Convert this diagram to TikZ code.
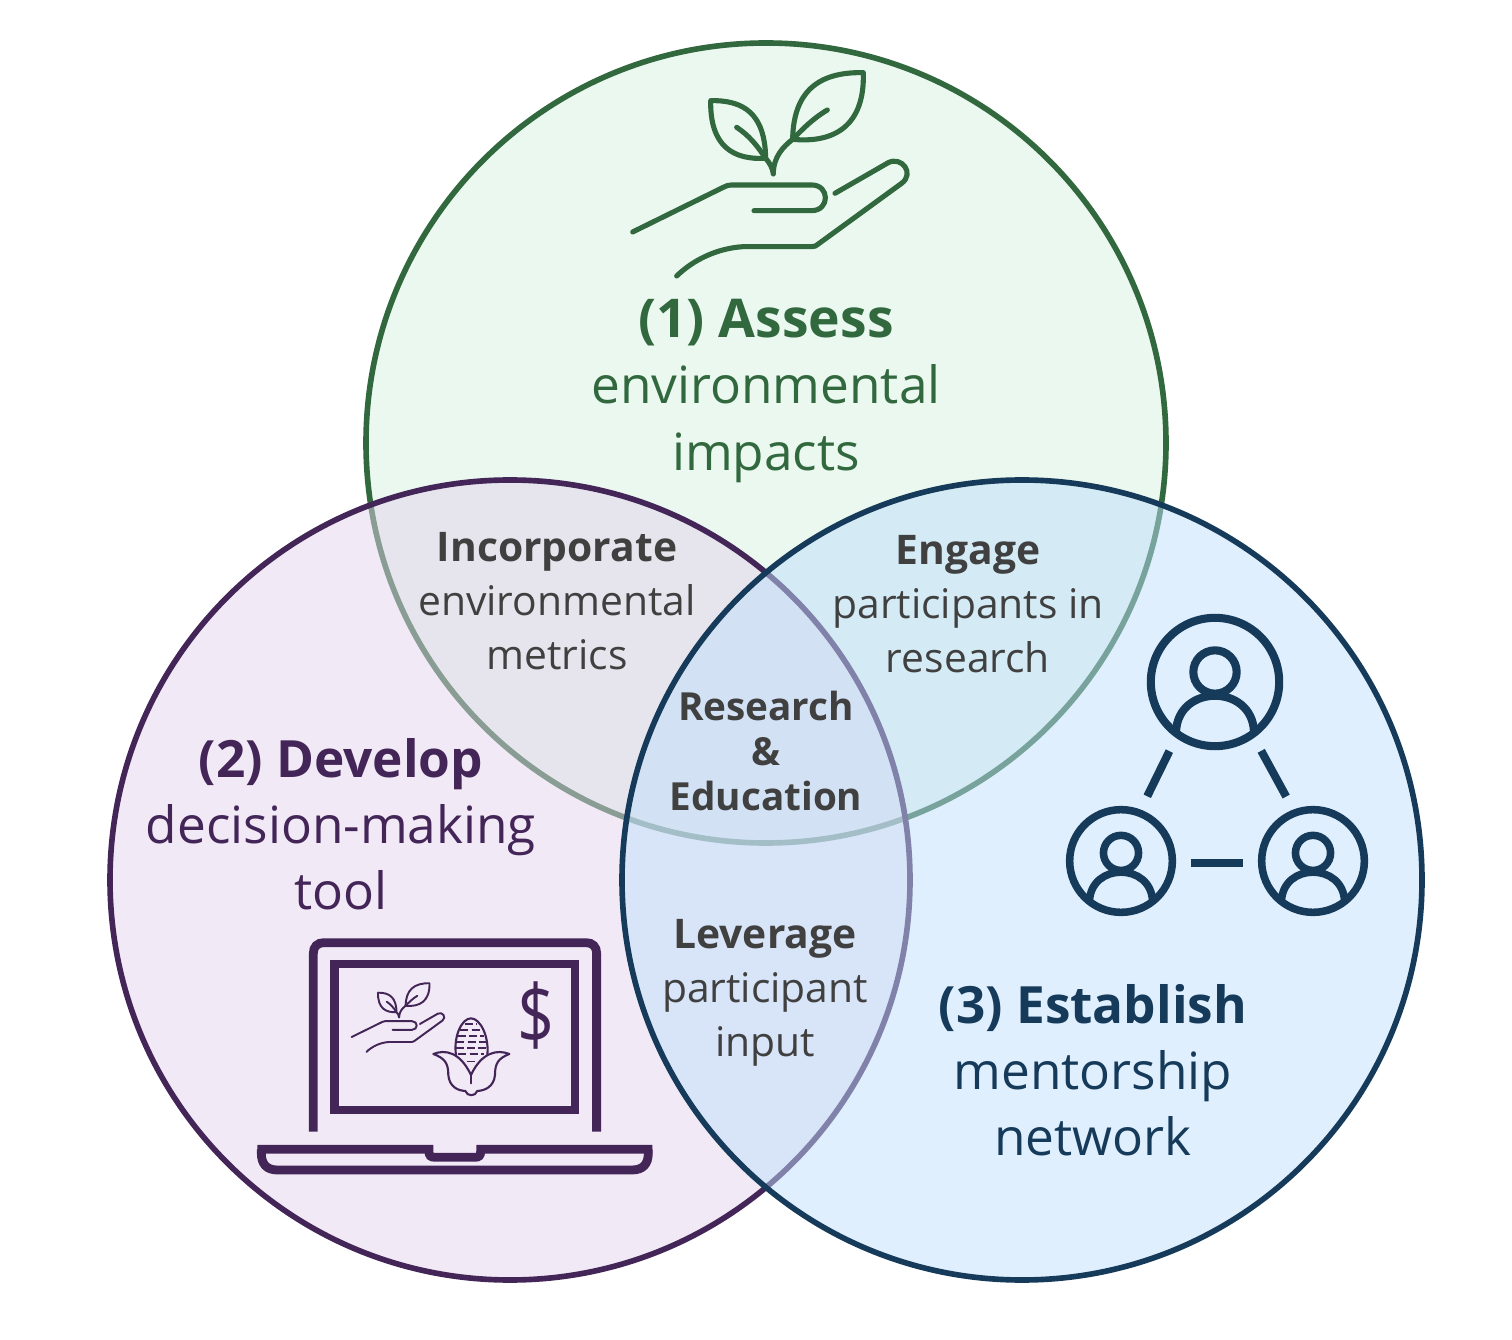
\documentclass[tikz,border=0pt]{standalone}
\usepackage{fontspec}
\setmainfont{Open Sans}
\usetikzlibrary{positioning,calc}
\definecolor{assessgreen}{RGB}{49,104,62}
\definecolor{developpurple}{RGB}{67,37,88}
\definecolor{establishblue}{RGB}{22,58,90}
\definecolor{softgreen}{RGB}{213,241,225}
\definecolor{softpurple}{RGB}{227,211,235}
\definecolor{softblue}{RGB}{191,223,251}
\definecolor{overlapgrey}{RGB}{64,64,64}
\tikzset{
  ring/.style={line width=1.6pt,fill opacity=.5},
  main/.style={align=center,font=\fontsize{14.6}{18.8}\selectfont},
  sub/.style={align=center,text=overlapgrey,font=\fontsize{11.6}{15.36}\selectfont},
  core/.style={align=center,text=overlapgrey,font=\fontsize{11}{12.66}\selectfont\bfseries},
  icon/.style={line cap=round,line join=round},
  laptop/.style={line width=2.5pt,developpurple},
  persona/.style={circle,draw=establishblue,line width=2.3pt,minimum size=#1},
  link/.style={line width=2.3pt,establishblue,shorten >=4.2pt,shorten <=4.2pt},
  planthand/.pic={
    \draw (332,152) .. controls (430,150) and (495,190) .. (497,325) .. controls (400,330) and (330,290) .. cycle;
    \draw (410,232) .. controls (445,255) and (470,285) .. (490,315);
    \draw (790,68) .. controls (650,65) and (580,130) .. (578,268) .. controls (700,280) and (795,230) .. cycle;
    \draw (682,180) .. controls (640,205) and (610,235) .. (578,268);
    \draw (497,325) .. controls (510,340) and (518,355) .. (520,372) .. controls (520,320) and (550,290) .. (578,268);
    \draw (98,546) -- (370,412) .. controls (380,407) and (385,405) .. (395,405) -- (635,405) .. controls (690,405) and (690,482) .. (635,482) -- (462,482);
    \draw (705,430) -- (865,338) .. controls (905,318) and (945,370) .. (905,400) -- (655,582) .. controls (648,588) and (645,590) .. (635,590) -- (430,590) .. controls (350,595) and (280,630) .. (230,678);
  },
  headbust/.pic={
    \draw (0,-30) circle (65);
    \draw (-117,150) .. controls (-112,5) and (112,5) .. (117,150);
  }
}
\begin{document}
\begin{tikzpicture}[x=0.01cm,y=-0.01cm]
\useasboundingbox (0,0) rectangle (1512,1340);
% three circles, the later ones veil the earlier rings
\filldraw[ring,draw=assessgreen,fill=softgreen] (766,443) circle (400);
\filldraw[ring,draw=developpurple,fill=softpurple] (510,880) circle (400);
\filldraw[ring,draw=establishblue,fill=softblue] (1022,880) circle (400);
% plant in hand
\pic[icon,draw=assessgreen,line width=1.45pt,scale=.3333] at (600,50) {planthand};
% laptop
\begin{scope}[shift={(240,920)},scale=.3333]
\draw[laptop] (220,635) -- (220,100) .. controls (220,80) and (232,68) .. (252,68) -- (1038,68) .. controls (1058,68) and (1070,80) .. (1070,100) -- (1070,635);
\draw[laptop] (283,132) rectangle (1005,570);
\draw[laptop] (52,688) -- (567,688) -- (567,695) .. controls (567,707) and (572,712) .. (585,712) -- (705,712) .. controls (717,712) and (722,707) .. (722,695) -- (722,688) -- (1237,688);
\draw[laptop] (64,688) -- (64,700) .. controls (64,732) and (80,750) .. (112,750) -- (1177,750) .. controls (1209,750) and (1225,732) .. (1225,700) -- (1225,688);
\end{scope}
\pic[icon,draw=developpurple,line width=.55pt,scale=.1125] at (340.6,975.6) {planthand};
% corn cob
\begin{scope}[shift={(240,920)},scale=.3333,icon,draw=developpurple,line width=.6pt]
\draw (648,405) .. controls (640,350) and (665,295) .. (693,295) .. controls (721,295) and (748,350) .. (742,405);
\foreach \rowy/\halfw in {312/18,330/32,348/40,366/44,384/45,402/38,424/12}
  \draw[line cap=butt,line width=.45pt,dash pattern=on 2.3pt off .9pt] (693-\halfw,\rowy) -- (693+\halfw,\rowy);
\draw (580,402) .. controls (615,388) and (660,395) .. (693,465) .. controls (726,395) and (773,388) .. (808,402) .. controls (775,415) and (765,430) .. (765,465) .. controls (762,500) and (735,512) .. (712,513) .. controls (706,530) and (682,530) .. (676,513) .. controls (653,512) and (628,500) .. (625,465) .. controls (625,430) and (615,415) .. (580,402) -- cycle;
\draw (693,465) -- (693,490);
\end{scope}
\node[text=developpurple,font=\fontsize{21}{21}\selectfont] (dollar) at (536,1016) {\scalebox{.88}[1.12]{\$}};
% people
\node[persona=36.5pt] (top) at (1215,682) {};
\node[persona=29.2pt,line width=2.15pt] (left) at (1121,861) {};
\node[persona=29.2pt,line width=2.15pt] (right) at (1313,861) {};
\draw[link] (top.235) -- (left.69);
\draw[link] (top.305) -- (right.111);
\draw[link] (left.-2) -- (right.182);
\pic[draw=establishblue,line width=2.3pt,scale=.3333] at (1215,682) {headbust};
\pic[draw=establishblue,line width=2.15pt,scale=.27] at (1121,861) {headbust};
\pic[draw=establishblue,line width=2.15pt,scale=.27] at (1313,861) {headbust};
% labels
\node[main,text=assessgreen] (assess) at (766,391) {\textbf{\fontsize{15.2}{18.8}\selectfont(1) Assess}\\environmental\\impacts};
\node[main,text=developpurple] (develop) at (341,824) {\textbf{(2) Develop}\\decision-making\\tool};
\node[main,text=establishblue] (establish) at (1093,1070) {\textbf{(3) Establish}\\mentorship\\network};
\node[sub] (incorporate) at (557,601) {\textbf{Incorporate}\\environmental\\metrics};
\node[sub] (engage) at (968,604) {\textbf{Engage}\\participants in\\research};
\node[sub] (leverage) at (765,993) {\textbf{Leverage}\\participant\\input};
\node[core] (research) at (766,751) {Research\\\&\\Education};
\end{tikzpicture}
\end{document}
